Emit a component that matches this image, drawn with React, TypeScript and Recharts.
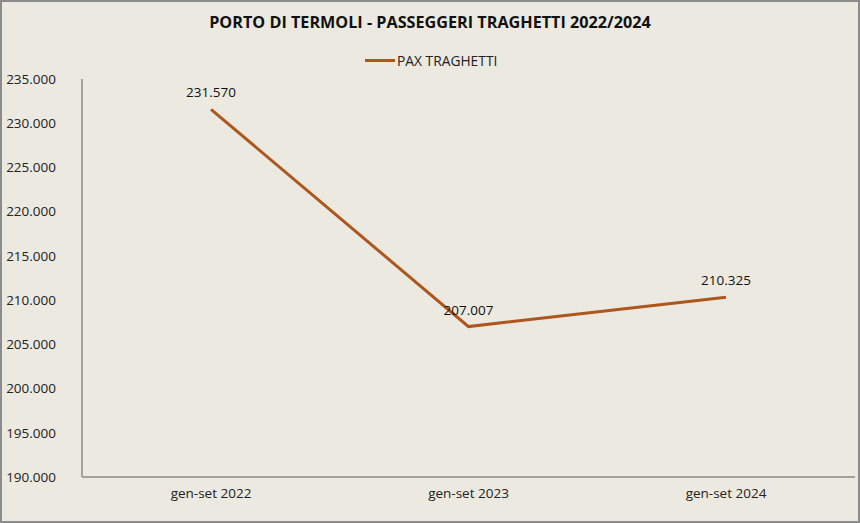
import React from 'react';
import { LineChart, Line, XAxis, YAxis, LabelList } from 'recharts';

const categories = ['gen-set 2022', 'gen-set 2023', 'gen-set 2024'];
const paxTraghetti = [231570, 207007, 210325];
const yTicks = [190000, 195000, 200000, 205000, 210000, 215000, 220000, 225000, 230000, 235000];

const data = categories.map((c, i) => ({ name: c, pax: paxTraghetti[i] }));

const fmt = (v: number) => {
  const s = Math.round(v).toString();
  return s.replace(/\B(?=(\d{3})+(?!\d))/g, '.');
};

const FONT = '"Open Sans", Calibri, sans-serif';
const LINE_COLOR = '#AD561E';

export default function App() {
  return (
    <div
      style={{
        position: 'absolute',
        left: 0,
        top: 0,
        width: 860,
        height: 523,
        background: '#ECE9E0',
        boxSizing: 'border-box',
        border: '2px solid #8c8c8c',
        fontFamily: FONT,
      }}
    >
      <div
        style={{
          position: 'absolute',
          left: 0,
          top: 9,
          width: 856,
          textAlign: 'center',
          fontWeight: 700,
          fontSize: 16.2,
          color: '#111',
        }}
      >
        PORTO DI TERMOLI - PASSEGGERI TRAGHETTI 2022/2024
      </div>
      <div
        style={{
          position: 'absolute',
          left: 363,
          top: 49,
          display: 'flex',
          alignItems: 'center',
          fontSize: 13.8,
          color: '#222',
        }}
      >
        <span style={{ display: 'inline-block', width: 30, height: 3, background: LINE_COLOR, marginRight: 2 }} />
        <span>PAX TRAGHETTI</span>
      </div>
      <div style={{ position: 'absolute', left: -2, top: -2 }}>
        <LineChart width={860} height={523} data={data} margin={{ top: 79, right: 5, bottom: 16, left: 22 }}>
          <XAxis
            dataKey="name"
            padding={{ left: 129, right: 129 }}
            axisLine={{ stroke: '#8a8a8a', strokeWidth: 1.5 }}
            tickLine={false}
            tickSize={0}
            tickMargin={11}
            tick={{ fill: '#222', fontSize: 13.5, fontFamily: FONT }}
          />
          <YAxis
            width={60}
            domain={[190000, 235000]}
            ticks={yTicks}
            tickFormatter={fmt}
            axisLine={{ stroke: '#8a8a8a', strokeWidth: 1.5 }}
            tickLine={false}
            tickSize={0}
            tickMargin={26}
            tick={{ fill: '#222', fontSize: 13.5, fontFamily: FONT }}
            allowDataOverflow
          />
          <Line
            type="linear"
            dataKey="pax"
            name="PAX TRAGHETTI"
            stroke={LINE_COLOR}
            strokeWidth={3}
            dot={false}
            activeDot={false}
            isAnimationActive={false}
          >
            <LabelList
              dataKey="pax"
              position="top"
              offset={12}
              formatter={(v: any) => fmt(Number(v))}
              style={{ fill: '#111', fontSize: 13.5, fontFamily: FONT }}
            />
          </Line>
        </LineChart>
      </div>
    </div>
  );
}
